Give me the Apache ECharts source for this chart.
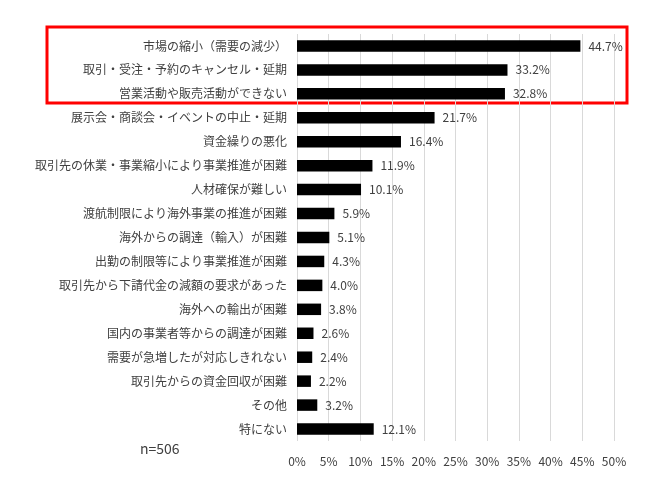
<!DOCTYPE html>
<html><head><meta charset="utf-8">
<script src="https://cdn.jsdelivr.net/npm/echarts@6/dist/echarts.min.js"></script>
<style>html,body{margin:0;padding:0;background:#fff}#c{width:650px;height:485px}</style>
</head><body><div id="c"></div>
<script>
const categories = ["市場の縮小（需要の減少）","取引・受注・予約のキャンセル・延期","営業活動や販売活動ができない","展示会・商談会・イベントの中止・延期","資金繰りの悪化","取引先の休業・事業縮小により事業推進が困難","人材確保が難しい","渡航制限により海外事業の推進が困難","海外からの調達（輸入）が困難","出勤の制限等により事業推進が困難","取引先から下請代金の減額の要求があった","海外への輸出が困難","国内の事業者等からの調達が困難","需要が急増したが対応しきれない","取引先からの資金回収が困難","その他","特にない"];
const values = [44.7,33.2,32.8,21.7,16.4,11.9,10.1,5.9,5.1,4.3,4.0,3.8,2.6,2.4,2.2,3.2,12.1];
const xTicks = [0,5,10,15,20,25,30,35,40,45,50];
const note = "n=506";
const font = "'Noto Sans CJK JP','Noto Sans',sans-serif";
const chart = echarts.init(document.getElementById('c'));
chart.setOption({
  animation:false,
  textStyle:{fontFamily:font},
  grid:{left:297,right:36,top:34,bottom:44},
  xAxis:{type:'value',min:xTicks[0],max:xTicks[xTicks.length-1],interval:5,
    axisLine:{show:false},axisTick:{show:false},
    axisLabel:{formatter:'{value}%',color:'#404040',fontSize:12,margin:14,fontFamily:font},
    splitLine:{show:true,lineStyle:{color:'#d9d9d9',width:1}}},
  yAxis:{type:'category',data:categories,inverse:true,
    axisLine:{show:false},axisTick:{show:false},
    axisLabel:{color:'#404040',fontSize:12,margin:10,fontFamily:font}},
  series:[{type:'bar',data:values,barWidth:'48%',itemStyle:{color:'#000'},
    label:{show:true,position:'right',distance:8,color:'#404040',fontSize:12,fontFamily:font,
      formatter:p=>p.value.toFixed(1)+'%'}}],
  graphic:[
    {type:'rect',shape:{x:47,y:27,width:580,height:76},style:{fill:'none',stroke:'#ff0000',lineWidth:3}},
    {type:'text',left:140,top:442,style:{text:note,fontSize:14,fill:'#404040',fontFamily:font}}
  ]
});
</script></body></html>
